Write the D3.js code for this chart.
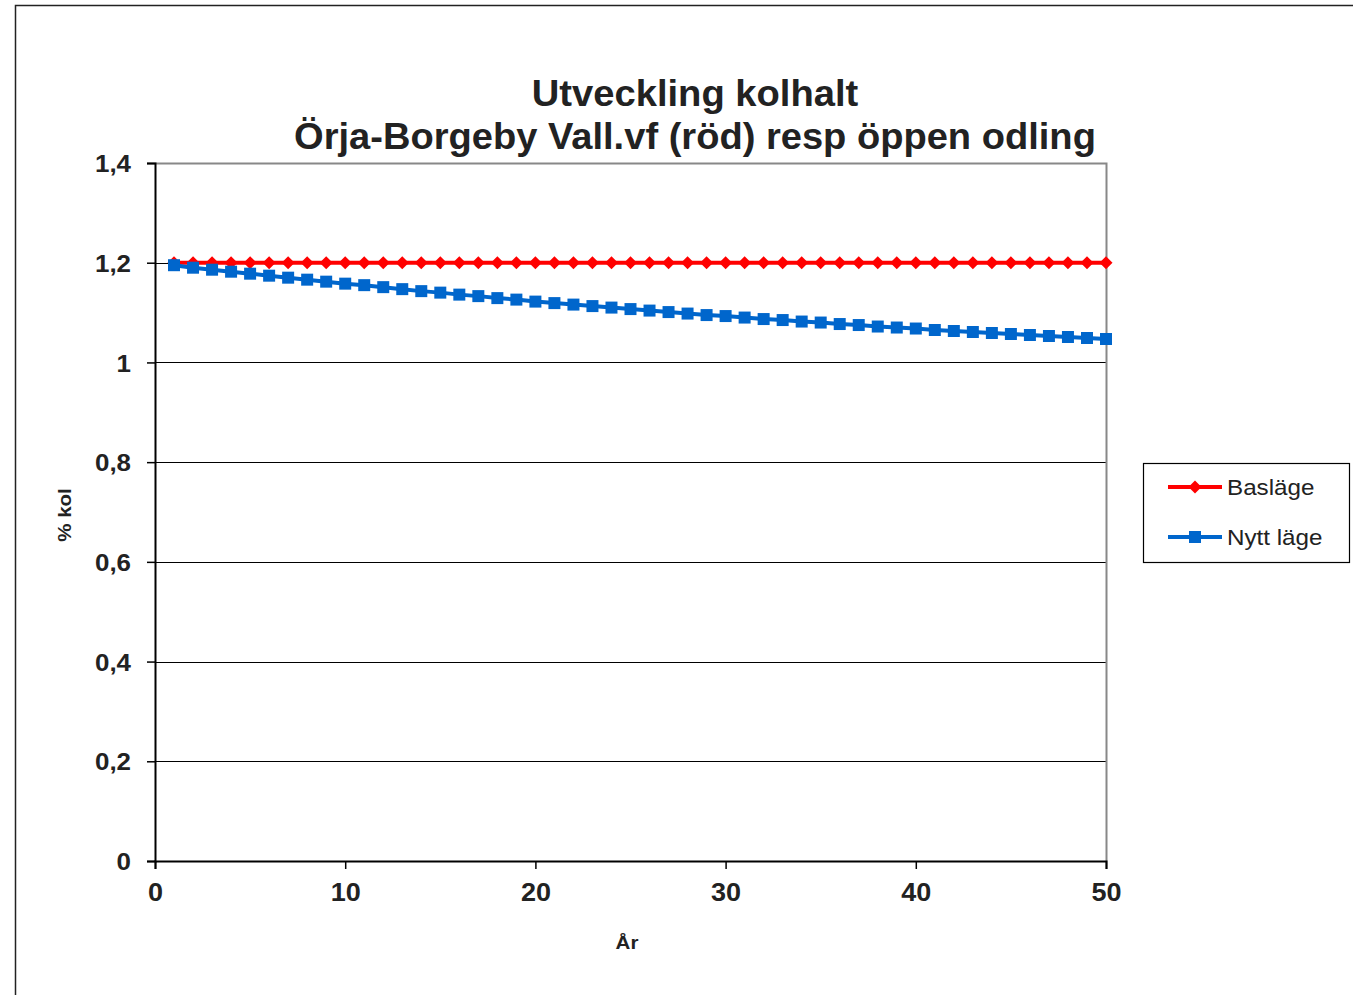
<!DOCTYPE html>
<html>
<head>
<meta charset="utf-8">
<script src="https://cdn.jsdelivr.net/npm/d3@7"></script>
<style>
  body { margin: 0; background: #fff; }
  text { font-family: "Liberation Sans", Arial, sans-serif; fill: #222; }
</style>
</head>
<body>
<svg id="chart" width="1353" height="995"></svg>
<script>
var years = d3.range(1, 51);
var baslage = [1.2, 1.2, 1.2, 1.2, 1.2, 1.2, 1.2, 1.2, 1.2, 1.2,
               1.2, 1.2, 1.2, 1.2, 1.2, 1.2, 1.2, 1.2, 1.2, 1.2,
               1.2, 1.2, 1.2, 1.2, 1.2, 1.2, 1.2, 1.2, 1.2, 1.2,
               1.2, 1.2, 1.2, 1.2, 1.2, 1.2, 1.2, 1.2, 1.2, 1.2,
               1.2, 1.2, 1.2, 1.2, 1.2, 1.2, 1.2, 1.2, 1.2, 1.2];
var nyttLage = [1.195, 1.190, 1.186, 1.182, 1.178, 1.174, 1.170, 1.166, 1.162, 1.158,
                1.155, 1.151, 1.147, 1.143, 1.140, 1.136, 1.133, 1.129, 1.126, 1.122,
                1.119, 1.116, 1.113, 1.110, 1.107, 1.104, 1.101, 1.098, 1.095, 1.093,
                1.090, 1.087, 1.085, 1.082, 1.080, 1.077, 1.075, 1.072, 1.070, 1.068,
                1.065, 1.063, 1.061, 1.059, 1.057, 1.055, 1.053, 1.051, 1.049, 1.047];
var yTicks = [0, 0.2, 0.4, 0.6, 0.8, 1, 1.2, 1.4];
var xTicks = [0, 10, 20, 30, 40, 50];
var seriesNames = ["Basläge", "Nytt läge"];
var colors = ["#ff0000", "#0066cc"];

var svg = d3.select("#chart");
var plotL = 155, plotR = 1106, plotT = 163, plotB = 861;
var stretch = 1.08;

var x = d3.scaleLinear().domain([0, 50]).range([plotL, plotR]);
var y = d3.scaleLinear().domain([0, 1.4]).range([plotB, plotT]);
var fmt = function(d) { return String(d).replace(".", ","); };

function label(tx, ty, str, size, weight, sx, rot) {
  return svg.append("text")
      .attr("transform", "translate(" + tx + "," + ty + ")" + (rot ? " rotate(" + rot + ")" : "") + " scale(" + sx + ",1)")
      .attr("text-anchor", "middle")
      .style("font-size", size + "px")
      .style("font-weight", weight)
      .text(str);
}

// outer frame (left + top edges visible)
svg.append("path")
    .attr("d", "M15.5,995 L15.5,5.5 L1353,5.5")
    .attr("fill", "none")
    .attr("stroke", "#222")
    .attr("stroke-width", 1.5);

// title
label(695, 106, "Utveckling kolhalt", 36, "bold", 1.06);
label(695, 149, "Örja-Borgeby Vall.vf (röd) resp öppen odling", 36, "bold", 1.058);

// gridlines
svg.append("g").selectAll("line")
    .data(yTicks.filter(function(d) { return d > 0 && d < 1.4; }))
    .enter().append("line")
    .attr("x1", plotL).attr("x2", plotR)
    .attr("y1", function(d) { return Math.round(y(d)) + 0.5; })
    .attr("y2", function(d) { return Math.round(y(d)) + 0.5; })
    .attr("stroke", "#000")
    .attr("stroke-width", 1);

// plot border top/right
svg.append("path")
    .attr("d", "M" + plotL + "," + (plotT + 0.5) + " L" + (plotR + 0.5) + "," + (plotT + 0.5) + " L" + (plotR + 0.5) + "," + plotB)
    .attr("fill", "none")
    .attr("stroke", "#888")
    .attr("stroke-width", 2);

// y axis
var yAxis = d3.axisLeft(y).tickValues(yTicks).tickFormat(fmt).tickSize(8).tickPadding(14);
var gy = svg.append("g")
    .attr("transform", "translate(" + plotL + ",0)")
    .call(yAxis);
gy.select(".domain").attr("stroke", "#000").attr("stroke-width", 2);
gy.selectAll(".tick line").attr("stroke", "#000").attr("stroke-width", 1.5);
gy.selectAll(".tick text")
    .style("font-size", "24px").style("font-weight", "bold")
    .attr("fill", "#222")
    .attr("x", null)
    .attr("dy", "0.36em")
    .attr("transform", "translate(-24,0) scale(" + stretch + ",1)");

// x axis
var xAxis = d3.axisBottom(x).tickValues(xTicks).tickSize(8).tickPadding(12);
var gx = svg.append("g")
    .attr("transform", "translate(0," + plotB + ")")
    .call(xAxis);
gx.select(".domain").attr("stroke", "#000").attr("stroke-width", 2);
gx.selectAll(".tick line").attr("stroke", "#000").attr("stroke-width", 1.5);
gx.selectAll(".tick text")
    .style("font-size", "25px").style("font-weight", "bold")
    .attr("fill", "#222")
    .attr("y", null)
    .attr("dy", null)
    .attr("transform", "translate(0,40) scale(" + stretch + ",1)");

// axis titles
label(627, 949, "År", 19, "bold", stretch);
label(71, 515, "% kol", 19, "bold", stretch, -90);

// lines
var line = d3.line()
    .x(function(d, i) { return x(years[i]); })
    .y(function(d) { return y(d); });

function diamond(s) { return "M0," + (-s) + " L" + s + ",0 L0," + s + " L" + (-s) + ",0Z"; }
function square(s) { return "M" + (-s) + "," + (-s) + " h" + (2 * s) + " v" + (2 * s) + " h" + (-2 * s) + "Z"; }

function drawSeries(values, color, shape, size) {
  svg.append("path")
      .datum(values)
      .attr("d", line)
      .attr("fill", "none")
      .attr("stroke", color)
      .attr("stroke-width", 4);
  svg.append("g").selectAll("path")
      .data(values)
      .enter().append("path")
      .attr("transform", function(d, i) { return "translate(" + x(years[i]) + "," + y(d) + ")"; })
      .attr("d", shape(size))
      .attr("fill", color);
}

drawSeries(baslage, colors[0], diamond, 6.5);
drawSeries(nyttLage, colors[1], square, 6);

// legend
var legend = svg.append("g");
legend.append("rect")
    .attr("x", 1143.5).attr("y", 463.5)
    .attr("width", 206).attr("height", 99)
    .attr("fill", "#fff")
    .attr("stroke", "#000")
    .attr("stroke-width", 1.2);
var shapes = [diamond, square];
var sizes = [6.5, 6];
seriesNames.forEach(function(name, i) {
  var ly = 487 + i * 50;
  legend.append("line")
      .attr("x1", 1168).attr("x2", 1222)
      .attr("y1", ly).attr("y2", ly)
      .attr("stroke", colors[i])
      .attr("stroke-width", 4);
  legend.append("path")
      .attr("transform", "translate(1195," + ly + ")")
      .attr("d", shapes[i](sizes[i]))
      .attr("fill", colors[i]);
  legend.append("text")
      .attr("transform", "translate(1227," + (ly + 8) + ") scale(1.1,1)")
      .style("font-size", "22px")
      .text(name);
});
</script>
</body>
</html>
